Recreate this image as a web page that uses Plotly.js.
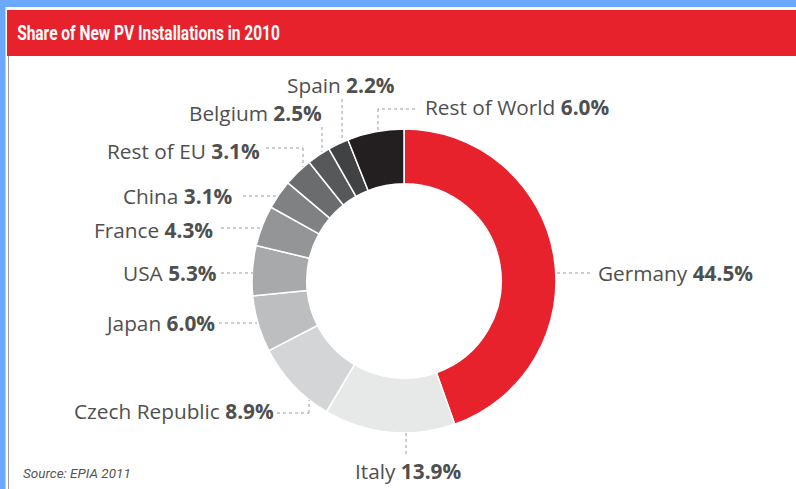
<!DOCTYPE html>
<html>
<head>
<meta charset="utf-8">
<script src="https://cdn.plot.ly/plotly-3.0.1.min.js"></script>
<style>html,body{margin:0;padding:0;background:#fff;}#chart{width:796px;height:489px;}</style>
</head>
<body>
<div id="chart"></div>
<script>
// ---- data ----
const countries = ['Germany','Italy','Czech Republic','Japan','USA','France','China','Rest of EU','Belgium','Spain','Rest of World'];
const shares = [44.5, 13.9, 8.9, 6.0, 5.3, 4.3, 3.1, 3.1, 2.5, 2.2, 6.0];
const sliceColors = ['#E8222C','#E7E8E8','#D4D5D6','#BDBEC0','#A7A9AB','#939597','#7F8183','#6B6C6E','#57585A','#414243','#231F20'];
const titleText = 'Share of New PV Installations in 2010';
const sourceText = 'Source: EPIA 2011';

// ---- label layout (pixels) ----
const W = 796, H = 489;
const labelLayout = {
  'Germany':        {x:596, y:273, anchor:'left',   lead:[[557,273],[590,273]]},
  'Italy':          {x:408, y:471, anchor:'center', lead:[[406,433],[406,456]]},
  'Czech Republic': {x:276, y:411, anchor:'right',  lead:[[277,413],[309,413],[309,400]]},
  'Japan':          {x:217, y:323, anchor:'right',  lead:[[219,323],[257,323]]},
  'USA':            {x:219, y:273, anchor:'right',  lead:[[221,273],[253,273]]},
  'France':         {x:215, y:230, anchor:'right',  lead:[[221,228],[262,228]]},
  'China':          {x:235, y:196, anchor:'right',  lead:[[243,196],[277,196]]},
  'Rest of EU':     {x:262, y:151, anchor:'right',  lead:[[266,148],[303,148],[303,167]]},
  'Belgium':        {x:324, y:113, anchor:'right',  lead:[[322,127],[322,152]]},
  'Spain':          {x:397, y:85,  anchor:'right',  lead:[[342,99],[342,140]]},
  'Rest of World':  {x:423, y:107, anchor:'left',   lead:[[415,109],[378,109],[378,130]]}
};
const px = x => x / W, py = y => 1 - y / H;

const labelFont = {family:'"Open Sans", Roboto, sans-serif', size:20.8, color:'#4f4f4f'};
const annotations = [];
const shapes = [
  {type:'rect', xref:'paper', yref:'paper', x0:0, x1:1, y0:py(7), y1:1, fillcolor:'#6BA9FF', line:{width:0}, layer:'below'},
  {type:'rect', xref:'paper', yref:'paper', x0:0, x1:px(5.5), y0:0, y1:1, fillcolor:'#6BA9FF', line:{width:0}, layer:'below'},
  {type:'rect', xref:'paper', yref:'paper', x0:px(7), x1:1, y0:py(56), y1:py(10), fillcolor:'#E8222C', line:{width:0}, layer:'below'},
  {type:'line', xref:'paper', yref:'paper', x0:px(8.5), x1:px(8.5), y0:0, y1:py(56), line:{color:'#9a9a9a', width:1}, layer:'below'}
];

countries.forEach((c, i) => {
  const L = labelLayout[c];
  annotations.push({
    xref:'paper', yref:'paper', x:px(L.x), y:py(L.y), xanchor:L.anchor, yanchor:'middle',
    text: c + ' <b>' + shares[i].toFixed(1) + '%</b>', showarrow:false, font:labelFont
  });
  for (let k = 0; k < L.lead.length - 1; k++) {
    shapes.push({type:'line', xref:'paper', yref:'paper',
      x0:px(L.lead[k][0]), y0:py(L.lead[k][1]), x1:px(L.lead[k+1][0]), y1:py(L.lead[k+1][1]),
      line:{color:'#9b9b9b', width:1, dash:'dot'}});
  }
});

const titleIndex = annotations.length;
annotations.push({xref:'paper', yref:'paper', x:px(15), y:py(33), xanchor:'left', yanchor:'middle',
  text:'<b>' + titleText + '</b>', showarrow:false,
  font:{family:'Roboto, sans-serif', size:20, color:'#ffffff'}});
annotations.push({xref:'paper', yref:'paper', x:px(21), y:py(473), xanchor:'left', yanchor:'middle',
  text:'<i>' + sourceText + '</i>', showarrow:false,
  font:{family:'Roboto, sans-serif', size:13.5, color:'#555555'}});

const trace = {
  type:'pie', labels:countries, values:shares, sort:false, direction:'clockwise', rotation:0,
  hole:0.64, textinfo:'none', hoverinfo:'label+percent',
  marker:{colors:sliceColors, line:{color:'#ffffff', width:1.5}},
  domain:{x:[px(252), px(556)], y:[py(433), py(129)]}
};

const layout = {
  width:W, height:H, margin:{l:0, r:0, t:0, b:0}, showlegend:false,
  paper_bgcolor:'#ffffff', plot_bgcolor:'#ffffff',
  annotations:annotations, shapes:shapes
};

Plotly.newPlot('chart', [trace], layout, {displayModeBar:false, staticPlot:true}).then(() => {
  // condense the header title horizontally to mimic the narrow heading face
  const t = document.querySelector('.annotation[data-index="' + titleIndex + '"] text.annotation-text');
  if (t) {
    const bb = t.getBBox();
    const s = 263 / bb.width;
    if (s < 1) t.setAttribute('transform', 'translate(' + bb.x + ',0) scale(' + s + ',1) translate(' + (-bb.x) + ',0)');
  }
});
</script>
</body>
</html>
